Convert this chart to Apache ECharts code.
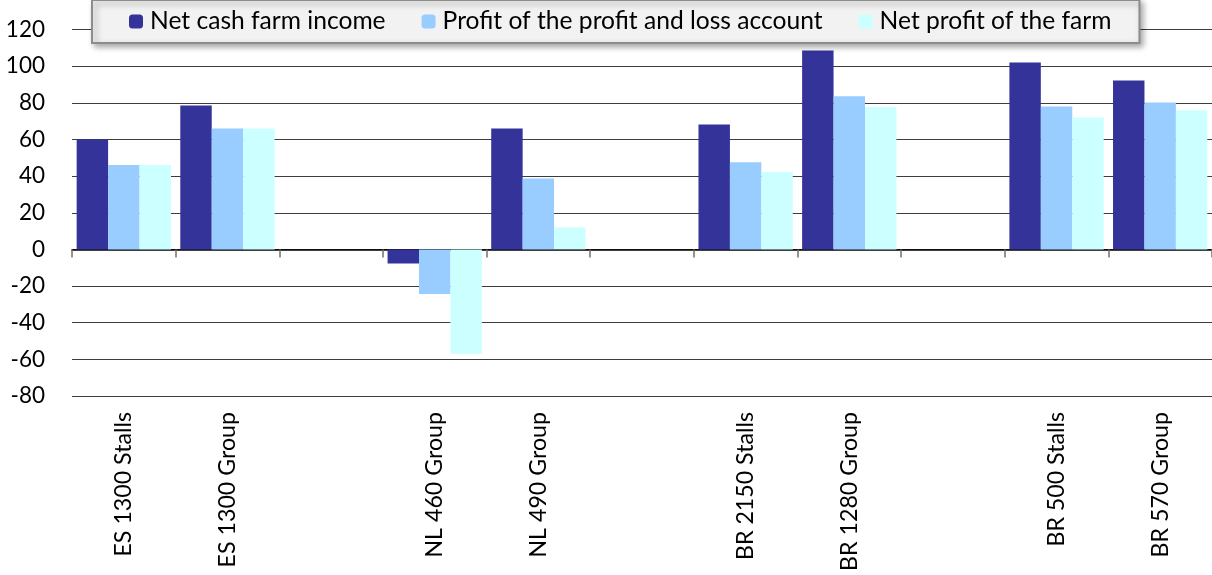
<!DOCTYPE html>
<html>
<head>
<meta charset="utf-8">
<script src="https://cdn.jsdelivr.net/npm/echarts@6/dist/echarts.min.js"></script>
<style>
  html, body { margin: 0; padding: 0; background: #fff; }
  #chart { width: 1212px; height: 575px; }
</style>
</head>
<body>
<div id="chart"></div>
<script>
  // farms, with empty slots between the country groups
  const categories = [
    "ES 1300 Stalls", "ES 1300 Group", "",
    "NL 460 Group", "NL 490 Group", "",
    "BR 2150 Stalls", "BR 1280 Group", "",
    "BR 500 Stalls", "BR 570 Group"
  ];
  const netCashIncome = [60, 78.5, null, -7.7, 66, null, 68.2, 108.6, null, 102, 92.2];
  const profitPL = [46, 66, null, -24.4, 38.7, null, 47.5, 83.6, null, 78, 80.2];
  const netProfitFarm = [46, 66, null, -57, 12, null, 42.2, 77.7, null, 72, 76];
  const yTicks = { min: -80, max: 120, step: 20 };

  const font = "Lato";

  const chart = echarts.init(document.getElementById("chart"));
  chart.setOption({
    animation: false,
    textStyle: { fontFamily: font },
    legend: {
      left: 92,
      top: 0,
      padding: [9, 28, 9, 37],
      itemGap: 36,
      itemWidth: 14,
      itemHeight: 14,
      backgroundColor: "#f2f2f2",
      borderColor: "#8c8c8c",
      borderWidth: 2,
      shadowColor: "rgba(0,0,0,0.35)",
      shadowBlur: 6,
      shadowOffsetX: 3,
      shadowOffsetY: 3,
      textStyle: { fontFamily: font, fontSize: 24.6, color: "#000", lineHeight: 24, padding: [0, 0, 0, 2] },
      data: ["Net cash farm income", "Profit of the profit and loss account", "Net profit of the farm"]
    },
    grid: { left: 72, right: 0, top: 29.5, height: 366.5 },
    xAxis: [
      {
        type: "category",
        data: categories,
        position: "bottom",
        axisLine: { show: false, onZero: false },
        axisTick: { show: false },
        axisLabel: { rotate: 90, margin: 16, fontSize: 23.2, color: "#000", fontFamily: font, interval: 0 }
      },
      {
        type: "category",
        data: categories,
        position: "top",
        axisLine: { onZero: true, lineStyle: { color: "#000", width: 1.5 } },
        axisTick: { show: true, inside: true, length: 8, interval: 0, lineStyle: { color: "#707070", width: 1.5 } },
        axisLabel: { show: false }
      }
    ],
    yAxis: {
      type: "value",
      min: yTicks.min,
      max: yTicks.max,
      interval: yTicks.step,
      axisLine: { show: false },
      axisTick: { show: false },
      axisLabel: { fontSize: 22.5, color: "#000", margin: 27, fontFamily: font },
      splitLine: { lineStyle: { color: "#3c3c3c", width: 1 } }
    },
    series: [
      {
        name: "Net cash farm income",
        type: "bar",
        data: netCashIncome,
        barGap: "0%",
        barCategoryGap: "9%",
        itemStyle: { color: "#333399" }
      },
      {
        name: "Profit of the profit and loss account",
        type: "bar",
        data: profitPL,
        barGap: "0%",
        barCategoryGap: "9%",
        itemStyle: { color: "#99ccff" }
      },
      {
        name: "Net profit of the farm",
        type: "bar",
        data: netProfitFarm,
        barGap: "0%",
        barCategoryGap: "9%",
        itemStyle: { color: "#ccffff" }
      }
    ]
  });
</script>
</body>
</html>
